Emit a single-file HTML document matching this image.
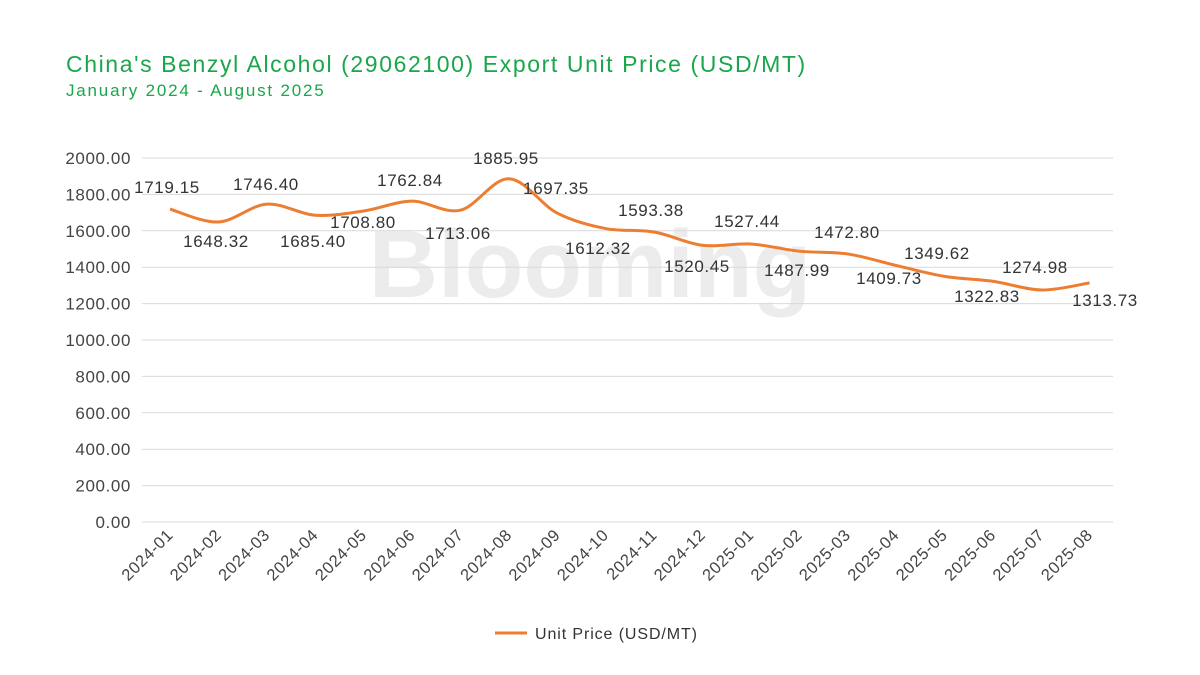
<!DOCTYPE html>
<html><head><meta charset="utf-8"><style>
body{margin:0;background:#fff;}
svg{display:block;font-family:"Liberation Sans",sans-serif;}
</style></head><body>
<svg id="s" width="1200" height="675" viewBox="0 0 1200 675">
<text x="66" y="72" font-size="23" fill="#1aa64a" letter-spacing="1.6">China's Benzyl Alcohol (29062100) Export Unit Price (USD/MT)</text>
<text x="66" y="96" font-size="17" fill="#1aa64a" letter-spacing="1.8">January 2024 - August 2025</text>
<text x="590" y="297" font-size="96" font-weight="bold" fill="#ececec" text-anchor="middle">Blooming</text>
<g id="g"></g>
<line x1="495" y1="633" x2="527" y2="633" stroke="#ed7d31" stroke-width="3"/>
<text x="535" y="639" font-size="16" fill="#333" letter-spacing="0.9">Unit Price (USD/MT)</text>
</svg>
<script>
const v=[1719.15,1648.32,1746.40,1685.40,1708.80,1762.84,1713.06,1885.95,1697.35,1612.32,1593.38,1520.45,1527.44,1487.99,1472.80,1409.73,1349.62,1322.83,1274.98,1313.73];
const L=[[167,187],[216,241],[266,184],[313,241],[363,222],[410,180],[458,233],[506,158],[556,188],[598,248],[651,210],[697,266],[747,221],[797,270],[847,232],[889,278],[937,253],[987,296],[1035,267],[1105,300]];
const lab=["2024-01","2024-02","2024-03","2024-04","2024-05","2024-06","2024-07","2024-08","2024-09","2024-10","2024-11","2024-12","2025-01","2025-02","2025-03","2025-04","2025-05","2025-06","2025-07","2025-08"];
let h='';
for(let i=0;i<=10;i++){const y=522-i*36.4;h+=`<line x1="142" x2="1113" y1="${y}" y2="${y}" stroke="#d9d9d9" stroke-width="1"/><text x="131" y="${y+6}" font-size="17" fill="#444" text-anchor="end" letter-spacing="0.6">${(i*200).toFixed(2)}</text>`;}
const P=v.map((a,i)=>[170+i*48.4,522-a*0.182]);
let d=`M${P[0][0]},${P[0][1]}`;
for(let i=0;i<P.length-1;i++){const p0=P[Math.max(0,i-1)],p1=P[i],p2=P[i+1],p3=P[Math.min(P.length-1,i+2)];
d+=` C${p1[0]+(p2[0]-p0[0])/6},${p1[1]+(p2[1]-p0[1])/6} ${p2[0]-(p3[0]-p1[0])/6},${p2[1]-(p3[1]-p1[1])/6} ${p2[0]},${p2[1]}`;}
h+=`<path d="${d}" fill="none" stroke="#ed7d31" stroke-width="3"/>`;
v.forEach((a,i)=>{h+=`<text x="${L[i][0]}" y="${L[i][1]+6}" font-size="17" fill="#333" text-anchor="middle" letter-spacing="0.6">${a.toFixed(2)}</text>`;
const x=P[i][0]+4,y=536;h+=`<text transform="translate(${x},${y}) rotate(-45)" font-size="16.5" fill="#444" text-anchor="end" letter-spacing="0.6">${lab[i]}</text>`;});
document.getElementById('g').innerHTML=h;
</script>
</body></html>
